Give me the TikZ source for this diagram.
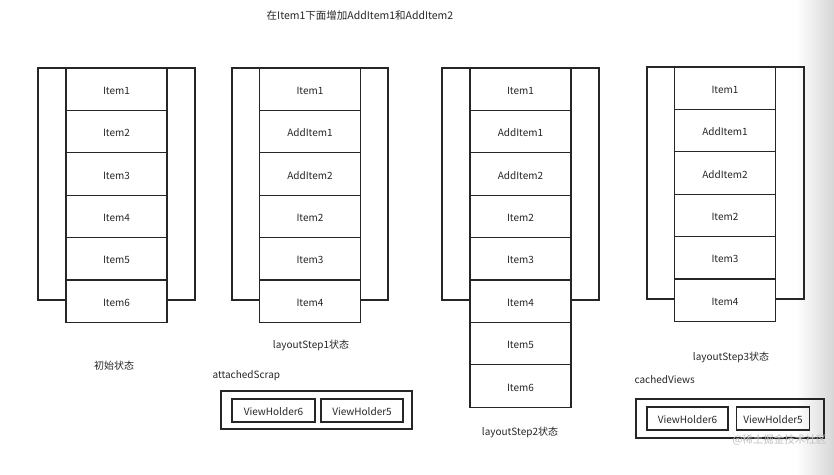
\documentclass[tikz,border=0pt]{standalone}
\usepackage{fontspec}
\setmainfont{Noto Sans CJK SC}
\begin{document}
\begin{tikzpicture}[x=1pt, y=-1pt, every node/.style={font=\fontsize{10}{12}\selectfont, text=black!85}]
\tikzset{
  frame/.style={draw=black!85, line width=1.3pt},
  cell/.style={draw=black!85, line width=1.3pt, fill=white, minimum width=101pt, minimum height=42.4pt, inner sep=0pt, text height=10pt, text depth=0pt},
  pool/.style={draw=black!85, line width=1.3pt, inner sep=0pt},
  holder/.style={draw=black!85, line width=1.3pt, minimum height=23pt, inner sep=0pt, text height=9pt, text depth=0pt},
  caption/.style={font=\fontsize{10}{12}\selectfont},
}
\useasboundingbox (0,0) rectangle (834,474);
% shadow at the right edge
\shade[left color=white, right color=black!16, draw=none] (796,0) rectangle (834,474);

\node[font=\fontsize{10.5}{12}\selectfont] (title) at (360,16) {在Item1下面增加AddItem1和AddItem2};

% initial state
\draw[frame] (38,68) rectangle (195,300);
\foreach \t [count=\i] in {Item1,Item2,Item3,Item4,Item5,Item6}
  \node[cell] (a\i) at (116.5,{89.2+42.4*(\i-1)}) {\t};
\node[caption] (cap1) at (114,366) {初始状态};

% layoutStep1
\draw[frame] (232,68) rectangle (388,300);
\foreach \t [count=\i] in {Item1,AddItem1,AddItem2,Item2,Item3,Item4}
  \node[cell] (b\i) at (310,{89.2+42.4*(\i-1)}) {\t};
\node[caption] (cap2) at (311,345) {layoutStep1状态};
\node[caption, anchor=west] (scrap) at (209,376) {attachedScrap};
\node[pool, minimum width=191pt, minimum height=38pt] (scrapbox) at (316.5,410) {};
\node[holder, minimum width=83pt] (s6) at (273.5,410.5) {ViewHolder6};
\node[holder, minimum width=82pt] (s5) at (362,410.5) {ViewHolder5};

% layoutStep2
\draw[frame] (442,68) rectangle (599,300);
\foreach \t [count=\i] in {Item1,AddItem1,AddItem2,Item2,Item3,Item4,Item5,Item6}
  \node[cell] (c\i) at (520.5,{89.2+42.4*(\i-1)}) {\t};
\node[caption] (cap3) at (520,432) {layoutStep2状态};

% layoutStep3
\draw[frame] (647,67) rectangle (804,299);
\foreach \t [count=\i] in {Item1,AddItem1,AddItem2,Item2,Item3,Item4}
  \node[cell] (d\i) at (725,{88.2+42.4*(\i-1)}) {\t};
\node[caption] (cap4) at (731,357) {layoutStep3状态};
\node[caption, anchor=west] (cached) at (631,380) {cachedViews};
\node[pool, minimum width=188pt, minimum height=39pt] (cachebox) at (730,418.5) {};
\node[holder, minimum width=81pt] (v6) at (687.5,418.5) {ViewHolder6};
\node[holder, minimum width=73pt] (v5) at (773,418.5) {ViewHolder5};

\node[text=black!25, font=\fontsize{10.5}{12}\selectfont, anchor=west] (mark) at (729,440) {@稀土掘金技术社区};
\end{tikzpicture}
\end{document}
